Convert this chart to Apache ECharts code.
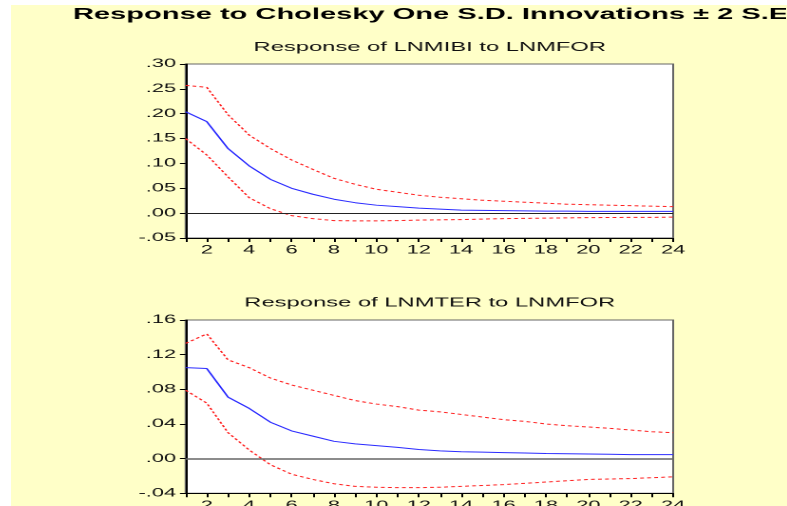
<!DOCTYPE html>
<html><head><meta charset="utf-8">
<script src="https://cdn.jsdelivr.net/npm/echarts@6/dist/echarts.min.js"></script>
<style>
html,body{margin:0;padding:0;background:#ffffff;overflow:hidden;width:787px;height:506px;}
#wrap{position:absolute;left:11px;top:5px;width:776px;height:501px;overflow:hidden;background:#ffffc8;}
#chart{position:absolute;left:0;top:0;height:501px;transform-origin:0 0;}
</style></head><body>
<div id="wrap"><div id="chart"></div></div>
<script>
// ---- data ----
const periods = ['1','2','3','4','5','6','7','8','9','10','11','12','13','14','15','16','17','18','19','20','21','22','23','24'];

const mibiResponse = [0.204,0.184,0.130,0.095,0.068,0.050,0.038,0.028,0.021,0.016,0.013,0.010,0.008,0.006,0.0055,0.005,0.0045,0.004,0.004,0.0035,0.0035,0.0035,0.0035,0.0035];
const mibiUpper    = [0.257,0.253,0.198,0.157,0.130,0.107,0.088,0.070,0.058,0.048,0.042,0.036,0.032,0.029,0.026,0.024,0.022,0.020,0.018,0.017,0.016,0.015,0.014,0.013];
const mibiLower    = [0.150,0.117,0.073,0.031,0.009,-0.005,-0.011,-0.015,-0.0155,-0.0155,-0.015,-0.014,-0.0135,-0.013,-0.012,-0.011,-0.0105,-0.010,-0.0095,-0.009,-0.0088,-0.0085,-0.0085,-0.008];

const terResponse  = [0.105,0.104,0.071,0.058,0.042,0.032,0.026,0.020,0.017,0.015,0.013,0.0105,0.009,0.008,0.0075,0.007,0.0065,0.006,0.0057,0.0054,0.005,0.0046,0.0046,0.0046];
const terUpper     = [0.133,0.144,0.114,0.105,0.093,0.085,0.079,0.073,0.067,0.063,0.060,0.056,0.054,0.051,0.048,0.045,0.043,0.040,0.038,0.0365,0.035,0.033,0.031,0.030];
const terLower     = [0.079,0.064,0.030,0.010,-0.007,-0.018,-0.024,-0.029,-0.032,-0.033,-0.0335,-0.0335,-0.033,-0.032,-0.031,-0.030,-0.0285,-0.027,-0.0255,-0.024,-0.0235,-0.023,-0.022,-0.021];

const mibiAxis = {min: -0.05, max: 0.30, interval: 0.05};
const terAxis  = {min: -0.04, max: 0.16, interval: 0.04};

const mainTitle = 'Response to Cholesky One S.D. Innovations \u00b1 2 S.E.';
const panelTitles = ['Response of LNMIBI to LNMFOR', 'Response of LNMTER to LNMFOR'];

// ---- layout (original graph is stretched horizontally) ----
const STRETCH = 1.9;
const W = 776 / STRETCH;
const el = document.getElementById('chart');
el.style.width = W + 'px';
el.style.transform = 'scaleX(' + STRETCH + ')';

const FONT = 'Liberation Sans, Arial, sans-serif';
const BLUE = '#2b2bff';
const RED = '#ff1f1f';

function fmt(v) {
  const s = Math.abs(v).toFixed(2).replace(/^0/, '');
  return (v < -1e-9 ? '-' : '') + s;
}

const gridLeft = 91.9, gridRight = 59.5;
const gridCenter = gridLeft + (W - gridLeft - gridRight) / 2;

function xAxisCfg(gi) {
  return {
    type: 'category', gridIndex: gi, data: periods, boundaryGap: false,
    axisLine: {show: true, onZero: false, lineStyle: {color: '#000', width: 1}},
    axisTick: {show: true, interval: 0, length: 4, lineStyle: {color: '#000'}},
    axisLabel: {show: true, interval: (i) => i % 2 === 1, margin: 6.5,
      fontFamily: FONT, fontSize: 11.5, color: '#111'},
    splitLine: {show: false}
  };
}
function yAxisCfg(gi, ax) {
  return {
    type: 'value', gridIndex: gi, min: ax.min, max: ax.max, interval: ax.interval,
    axisLine: {show: true, lineStyle: {color: '#000', width: 1}},
    axisTick: {show: true, length: 3, lineStyle: {color: '#000'}},
    axisLabel: {show: true, margin: 5, formatter: fmt,
      fontFamily: FONT, fontSize: 11.5, color: '#111'},
    splitLine: {show: false}
  };
}
function band(gi, data) {
  return {type: 'line', xAxisIndex: gi, yAxisIndex: gi, data: data, symbol: 'none',
    lineStyle: {color: RED, width: 1, type: [2, 1.7]}, z: 3};
}
function resp(gi, data, zeroColor, zeroWidth) {
  return {type: 'line', xAxisIndex: gi, yAxisIndex: gi, data: data, symbol: 'none',
    lineStyle: {color: BLUE, width: 1}, z: 4,
    markLine: {silent: true, symbol: ['none', 'none'], label: {show: false},
      lineStyle: {color: zeroColor, type: 'solid', width: zeroWidth},
      data: [{yAxis: 0}]}};
}

const chart = echarts.init(el, null, {renderer: 'canvas', devicePixelRatio: 2});
chart.setOption({
  animation: false,
  backgroundColor: 'transparent',
  title: [
    {text: mainTitle, left: 32.6, top: 10, padding: 0, textAlign: 'left', textVerticalAlign: 'middle',
      textStyle: {fontFamily: FONT, fontSize: 15.3, fontWeight: 'bold', color: '#000'}},
    {text: panelTitles[0], left: gridCenter, top: 42.5, padding: 0, textAlign: 'center', textVerticalAlign: 'middle',
      textStyle: {fontFamily: FONT, fontSize: 12.5, fontWeight: 'normal', color: '#111'}},
    {text: panelTitles[1], left: gridCenter, top: 298, padding: 0, textAlign: 'center', textVerticalAlign: 'middle',
      textStyle: {fontFamily: FONT, fontSize: 12.5, fontWeight: 'normal', color: '#111'}}
  ],
  grid: [
    {left: gridLeft, right: gridRight, top: 59, height: 174, show: true, backgroundColor: '#fff',
      borderColor: '#666', borderWidth: 1, outerBoundsMode: 'none', containLabel: false},
    {left: gridLeft, right: gridRight, top: 315, height: 173.3, show: true, backgroundColor: '#fff',
      borderColor: '#666', borderWidth: 1, outerBoundsMode: 'none', containLabel: false}
  ],
  xAxis: [xAxisCfg(0), xAxisCfg(1)],
  yAxis: [yAxisCfg(0, mibiAxis), yAxisCfg(1, terAxis)],
  series: [
    resp(0, mibiResponse, '#222', 1),
    band(0, mibiUpper),
    band(0, mibiLower),
    resp(1, terResponse, '#666', 1.5),
    band(1, terUpper),
    band(1, terLower)
  ]
});
</script>
</body></html>
